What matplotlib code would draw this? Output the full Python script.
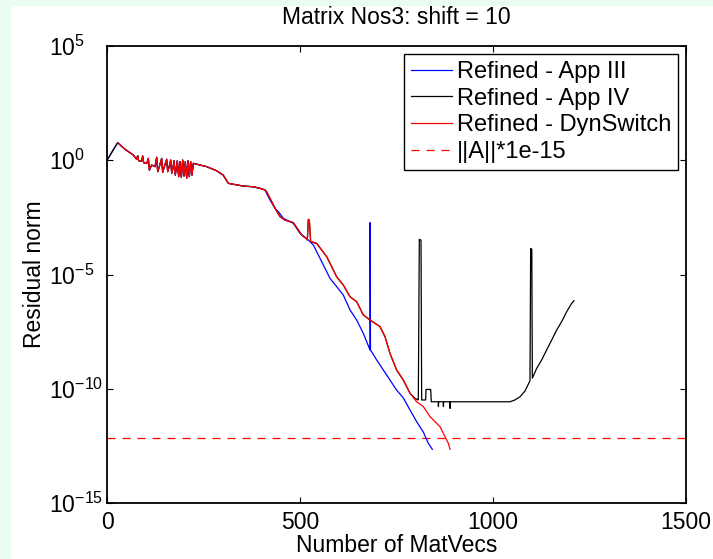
import matplotlib
matplotlib.use("Agg")
import matplotlib.pyplot as plt
import numpy as np
from matplotlib.patches import Rectangle
from matplotlib.ticker import NullLocator, LogFormatterMathtext

plt.rcParams['font.family'] = ['Liberation Sans', 'DejaVu Sans']
plt.rcParams['mathtext.fontset'] = 'custom'
plt.rcParams['mathtext.rm'] = 'Liberation Sans'
plt.rcParams['mathtext.it'] = 'Liberation Sans'
plt.rcParams['mathtext.bf'] = 'Liberation Sans'
plt.rcParams['lines.scale_dashes'] = False
plt.rcParams['axes.unicode_minus'] = False

title = "Matrix Nos3: shift = 10"
xlabel = "Number of MatVecs"
ylabel = "Residual norm"
labels = ["Refined - App III", "Refined - App IV", "Refined - DynSwitch", "||A||*1e-15"]
xticks = [0, 500, 1000, 1500]
yticks = [1e5, 1e0, 1e-5, 1e-10, 1e-15]
norm_line = 7.2e-13

# shared history (log10 of residual)
x_common = [0, 27.6, 46.6, 68.2, 76.9, 79.4, 82.0, 89.8, 92.4, 95.0, 102.8, 107.1, 109.7,
            115.7, 124.4, 128.7, 131.3, 135.6, 141.6, 144.2, 148.5, 154.6, 157.2, 160.6,
            165.0, 167.6, 171.0, 173.6, 177.0, 182.2, 185.7, 189.1, 192.6, 196.0, 199.5,
            202.9, 206.4, 209.8, 213.3, 216.7, 220.2, 223.7, 241.0, 258.2, 284.1, 301.0,
            314.4, 327.0, 353.2, 379.1, 396.4, 409.3]
e_common = [0.00, 0.77, 0.48, 0.23, 0.04, 0.20, -0.02, -0.05, 0.19, -0.11, -0.14, 0.08, -0.43,
            -0.21, -0.28, 0.13, -0.50, -0.28, 0.08, -0.53, -0.28, 0.04, -0.50, -0.31,
            0.01, -0.57, -0.35, -0.02, -0.65, -0.02, -0.72, -0.06, -0.75, 0.01, -0.69,
            -0.06, -0.79, -0.02, -0.72, -0.06, -0.65, -0.135, -0.21, -0.28, -0.46, -0.65,
            -1.01, -1.05, -1.13, -1.16, -1.23, -1.30]

x_app3 = [413.7, 422.3, 435.3, 443.9, 456.9, 482.8, 500.0, 521.6, 534.6, 543.2, 556.2, 564.8,
          577.7, 595.0, 612.2, 629.5, 646.8, 664.1, 681.3, 681.6, 682.6, 698.6, 715.9, 733.1,
          750.4, 767.7, 785.0, 802.2, 819.6, 832.5, 842.8]
e_app3 = [-1.45, -1.74, -2.10, -2.25, -2.54, -2.76, -3.20, -3.49, -3.71, -4.00, -4.44, -4.73,
          -5.17, -5.53, -5.90, -6.55, -6.99, -7.58, -8.30, -2.73, -8.30, -8.74, -9.18, -9.62,
          -10.06, -10.40, -10.93, -11.44, -11.90, -12.39, -12.65]

x_dyn = [413.7, 426.6, 435.3, 448.2, 461.2, 482.8, 504.3, 515.6, 519.0, 521.6, 524.2, 527.6,
         543.2, 556.2, 569.1, 582.1, 595.0, 612.2, 629.5, 646.8, 664.1, 681.3, 707.2, 720.2,
         733.1, 750.4, 767.7, 785.0, 802.2, 819.5, 836.8, 862.7, 875.7, 884.3, 888.7]
e_dyn = [-1.38, -1.81, -2.10, -2.47, -2.62, -2.73, -3.27, -3.42, -3.49, -2.59, -2.62, -3.56,
         -3.64, -3.93, -4.22, -4.66, -5.10, -5.46, -5.97, -6.19, -6.77, -6.99, -7.28, -7.72,
         -8.45, -9.18, -9.62, -10.20, -10.57, -10.78, -11.22, -11.66, -12.10, -12.39, -12.65]

# App IV follows DynSwitch up to x = 785, then its own tail
x_app4_tail = [797.9, 806.5, 809.1, 813.5, 815.2, 825.5, 826.5, 838.5, 840.2, 858.4, 858.6,
               859.2, 871.3, 871.5, 872.1, 888.6, 888.8, 889.4, 1044.0, 1057.0, 1070.0,
               1082.9, 1095.8, 1097.6, 1100.5, 1101.9, 1113.1, 1126.1, 1139.0, 1152.0,
               1164.9, 1177.9, 1190.8, 1203.8, 1209.8]
e_app4_tail = [-10.42, -10.49, -3.46, -3.50, -10.49, -10.49, -10.03, -10.03, -10.57, -10.57,
               -10.78, -10.57, -10.57, -10.78, -10.57, -10.57, -10.86, -10.57, -10.57, -10.49,
               -10.35, -10.10, -9.65, -3.86, -3.90, -9.54, -9.11, -8.74, -8.30, -7.87,
               -7.43, -7.06, -6.63, -6.26, -6.15]

FS = 16.5
W, H = 713, 559
fig = plt.figure(figsize=(W / 100, H / 100), dpi=100, facecolor='white')
green = '#eafdf0'
fig.patches.append(Rectangle((0, 0), 11 / W, 1, transform=fig.transFigure,
                             facecolor=green, edgecolor='none', zorder=-10))
fig.patches.append(Rectangle((0, 1 - 6 / H), 1, 6 / H, transform=fig.transFigure,
                             facecolor=green, edgecolor='none', zorder=-10))

ax = fig.add_axes([107 / W, 1 - 503 / H, (686 - 107) / W, (503 - 46) / H])

n_dyn_keep = x_dyn.index(785.0) + 1
xb = x_common + x_app3
yb = 10.0 ** np.array(e_common + e_app3)
xr = x_common + x_dyn
yr = 10.0 ** np.array(e_common + e_dyn)
xk = x_common + x_dyn[:n_dyn_keep] + x_app4_tail
yk = 10.0 ** np.array(e_common + e_dyn[:n_dyn_keep] + e_app4_tail)

l1, = ax.plot(xb, yb, color='#0000ff', lw=0.9, zorder=2)
l2, = ax.plot(xk, yk, color='black', lw=0.9, zorder=2.1)
l3, = ax.plot(xr[1:], yr[1:], color='#ff0000', lw=0.9, zorder=2.2)
l4 = ax.axhline(norm_line, color='#ff0000', lw=0.9, dashes=(5.8, 5.0), zorder=1.5)

ax.set_yscale('log')
ax.set_xlim(0, 1500)
ax.set_ylim(1e-15, 1e5)
ax.set_xticks(xticks)
ax.set_yticks(yticks)
ax.yaxis.set_minor_locator(NullLocator())
ax.yaxis.set_major_formatter(LogFormatterMathtext())
ax.tick_params(direction='in', length=4.3, width=0.8, top=True, right=True,
               labelsize=FS, pad=6, colors='black')
ax.tick_params(axis='y', pad=42)
for lab in ax.get_yticklabels():
    lab.set_horizontalalignment('left')
for s in ax.spines.values():
    s.set_linewidth(1.3)

ax.set_title(title, fontsize=FS, pad=16)
ax.set_xlabel(xlabel, fontsize=FS, labelpad=0)
ax.set_ylabel(ylabel, fontsize=FS, labelpad=2)

leg = ax.legend([l1, l2, l3, l4], labels, loc='upper right', fontsize=17,
                frameon=True, fancybox=False, framealpha=1, edgecolor='black',
                borderaxespad=0.33, handlelength=1.7, handletextpad=0.22,
                labelspacing=0.2, borderpad=0.3)
leg.get_frame().set_linewidth(1.0)

fig.savefig('out.png', dpi=100, facecolor=fig.get_facecolor())
